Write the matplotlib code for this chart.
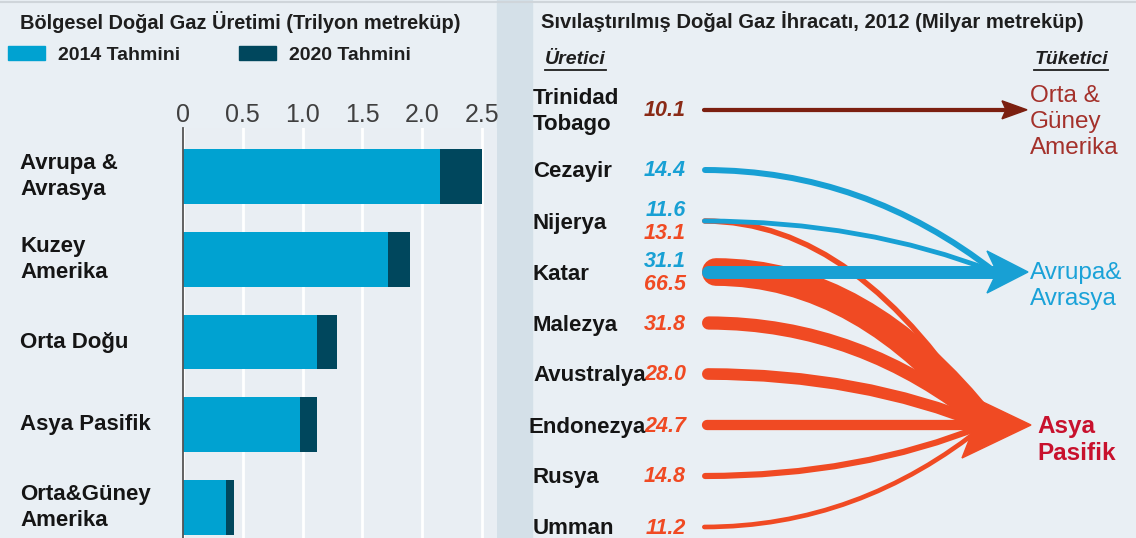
import matplotlib
matplotlib.use("Agg")
import matplotlib.pyplot as plt
import numpy as np
from matplotlib.path import Path
from matplotlib.patches import PathPatch, Polygon, Rectangle, Patch
from matplotlib.lines import Line2D
import matplotlib.transforms as mtransforms

plt.rcParams['font.family'] = ['Liberation Sans', 'DejaVu Sans']

# ---------------- data ----------------
regions = ['Avrupa &\nAvrasya', 'Kuzey\nAmerika', 'Orta Doğu', 'Asya Pasifik', 'Orta&Güney\nAmerika']
prod_2014 = [2.15, 1.71, 1.12, 0.98, 0.36]
prod_2020 = [2.50, 1.90, 1.29, 1.12, 0.43]
xticks = [0, 0.5, 1.0, 1.5, 2.0, 2.5]
xtick_labels = ['0', '0.5', '1.0', '1.5', '2.0', '2.5']
legend_labels = ['2014 Tahmini', '2020 Tahmini']

producers = ['Trinidad\nTobago', 'Cezayir', 'Nijerya', 'Katar', 'Malezya',
             'Avustralya', 'Endonezya', 'Rusya', 'Umman']
consumers = ['Orta &\nGüney\nAmerika', 'Avrupa&\nAvrasya', 'Asya\nPasifik']
flow_src = [0, 1, 2, 2, 3, 3, 4, 5, 6, 7, 8]
flow_dst = [0, 1, 1, 2, 1, 2, 2, 2, 2, 2, 2]
flow_val = [10.1, 14.4, 11.6, 13.1, 31.1, 66.5, 31.8, 28.0, 24.7, 14.8, 11.2]

# ---------------- style ----------------
W, H = 1136, 538
BG = '#e9eff4'
LIGHT = '#00a2d1'
DARK = '#00475d'
dest_line_col = ['#7b1f10', '#18a0d4', '#f04a23']
dest_val_col = ['#8a2a16', '#18a0d4', '#f04a23']
dest_lab_col = ['#a4312b', '#1aa2d8', '#c8112d']
dest_lab_weight = ['normal', 'normal', 'bold']
NARROW = ['Liberation Sans Narrow', 'Liberation Sans', 'DejaVu Sans']

fig = plt.figure(figsize=(W / 100, H / 100), dpi=100, facecolor=BG)

def fx(px):
    return px / W

def fy(py):
    return 1 - py / H

# background decorations
fig.add_artist(Rectangle((fx(497), 0), fx(35), 1, transform=fig.transFigure,
                         color='#d4e0e8', zorder=0))
fig.add_artist(Line2D([0, 1], [fy(1.5), fy(1.5)], transform=fig.transFigure,
                      color='#cfd5da', lw=1.5))

# ---------------- left panel: bars ----------------
ax = fig.add_axes([fx(183), 0, fx(497) - fx(183), fy(128)])
ax.set_facecolor('#e9eef3')
y = np.arange(len(regions))
ax.barh(y, prod_2020, height=0.66, color=DARK, zorder=2)
ax.barh(y, prod_2014, height=0.66, color=LIGHT, zorder=3)
ax.set_xlim(0, 2.625)
ax.set_ylim(4.37, -0.59)
ax.xaxis.tick_top()
ax.set_xticks(xticks)
ax.set_xticklabels(xtick_labels, family=NARROW, fontsize=18, color='#404040')
ax.tick_params(axis='x', length=0, pad=1)
ax.set_yticks([])
ax.grid(axis='x', color='white', lw=2)
ax.set_axisbelow(True)
for s in ['top', 'right', 'bottom']:
    ax.spines[s].set_visible(False)
ax.spines['left'].set_color('#555555')
ax.spines['left'].set_linewidth(1.3)
ax.spines['left'].set_zorder(4)

lab_tr = mtransforms.blended_transform_factory(fig.transFigure, ax.transData)
for i, r in enumerate(regions):
    ax.text(fx(20), i, r, transform=lab_tr, ha='left', va='center',
            fontsize=16, fontweight='bold', color='#151515', linespacing=1.3)

fig.text(fx(20), fy(22), 'Bölgesel Doğal Gaz Üretimi (Trilyon metreküp)',
         ha='left', va='center', fontsize=14.4, fontweight='bold', color='#1e1e1e')

handles = [Patch(color=LIGHT, label=legend_labels[0]),
           Patch(color=DARK, label=legend_labels[1])]
fig.legend(handles=handles, loc='upper left', bbox_to_anchor=(fx(8), fy(46)),
           ncol=2, frameon=False, borderpad=0, borderaxespad=0,
           handlelength=1.9, handleheight=0.75, handletextpad=0.65,
           columnspacing=3.05, prop={'size': 14, 'weight': 'bold'},
           labelcolor='#1e1e1e')

# ---------------- right panel: flows ----------------
ax2 = fig.add_axes([fx(532), 0, 1 - fx(532), 1])
ax2.set_xlim(532, 1136)
ax2.set_ylim(538, 0)
ax2.axis('off')
ax2.patch.set_alpha(0)

Y0, DY = 119, 51
prod_rows = np.arange(len(producers), dtype=float)
prod_rows[0] = -0.18
prod_y = Y0 + DY * prod_rows
dest_rows = [prod_rows[0], 3, 6]
dest_y = Y0 + DY * np.array(dest_rows)

X_LABEL, X_VAL, X_EDGE = 533, 686, 702
dest_end_x = [1004, 995, 985]
dest_head = [  # (tip, back, notch, half width)
    (1027, 1002, 1006, 9),
    (1028, 987, 997, 21),
    (1031, 962, 975, 33),
]
PT_PER_UNIT = 0.30
PX_PER_PT = 100 / 72

def flow_path(x0, y0, x1, y1):
    if abs(y1 - y0) < 1e-6:
        return Path([(x0, y0), (x1, y1)], [Path.MOVETO, Path.LINETO])
    cx = x0 + 0.55 * (x1 - x0)
    return Path([(x0, y0), (cx, y0), (x1, y1)],
                [Path.MOVETO, Path.CURVE3, Path.CURVE3])

# draw order: Asia (red) first, then Europe (blue), then America (brown)
order = sorted(range(len(flow_val)), key=lambda k: -flow_dst[k])
for k in order:
    d = flow_dst[k]
    s = flow_src[k]
    lw = flow_val[k] * PT_PER_UNIT
    x0 = X_EDGE + lw * PX_PER_PT / 2
    p = flow_path(x0, prod_y[s], dest_end_x[d], dest_y[d])
    ax2.add_patch(PathPatch(p, fill=False, edgecolor=dest_line_col[d],
                            lw=lw, capstyle='round',
                            joinstyle='round', zorder=2 + (2 - d)))

for d in range(len(consumers)):
    tip, back, notch, hw = dest_head[d]
    yy = dest_y[d]
    ax2.add_patch(Polygon([(tip, yy), (back, yy - hw), (notch, yy), (back, yy + hw)],
                          closed=True, color=dest_line_col[d], zorder=2 + (2 - d)))

# value labels
for s in range(len(producers)):
    ks = [k for k in range(len(flow_val)) if flow_src[k] == s]
    ks.sort(key=lambda k: flow_dst[k])
    n = len(ks)
    for j, k in enumerate(ks):
        off = (j - (n - 1) / 2) * 23
        ax2.text(X_VAL, prod_y[s] + off + 1, f'{flow_val[k]:.1f}', ha='right',
                 va='center', family=NARROW, style='italic', fontweight='bold',
                 fontsize=15.5, color=dest_val_col[flow_dst[k]], zorder=6)

# producer labels
for s, name in enumerate(producers):
    ax2.text(X_LABEL if name != 'Endonezya' else X_LABEL - 4, prod_y[s] + 2, name,
             ha='left', va='center', fontsize=16, fontweight='bold',
             color='#151515', linespacing=1.3, zorder=6)

# consumer labels
lab_off = [12, 14, 15]
lab_x = [1030, 1030, 1037]
for d, name in enumerate(consumers):
    ax2.text(lab_x[d], dest_y[d] + lab_off[d], name, ha='left', va='center',
             fontsize=17.5, fontweight=dest_lab_weight[d], color=dest_lab_col[d],
             linespacing=1.22, zorder=6)

fig.text(fx(541), fy(22), 'Sıvılaştırılmış Doğal Gaz İhracatı, 2012 (Milyar metreküp)',
         ha='left', va='center', fontsize=14.6, fontweight='bold', color='#1e1e1e')

hdr = []
hdr.append(fig.text(fx(545), fy(60), 'Üretici', ha='left', va='center', fontsize=14,
                    fontweight='bold', style='italic', color='#1e1e1e'))
hdr.append(fig.text(fx(1108), fy(60), 'Tüketici', ha='right', va='center', fontsize=14,
                    fontweight='bold', style='italic', color='#1e1e1e'))

fig.canvas.draw()
r = fig.canvas.get_renderer()
for t in hdr:
    bb = t.get_window_extent(r)
    fig.add_artist(Line2D([bb.x0 / W, bb.x1 / W], [(bb.y0 - 1) / H, (bb.y0 - 1) / H],
                          transform=fig.transFigure, color='#1e1e1e', lw=1.3))

fig.savefig('out.png', dpi=100, facecolor=BG)
